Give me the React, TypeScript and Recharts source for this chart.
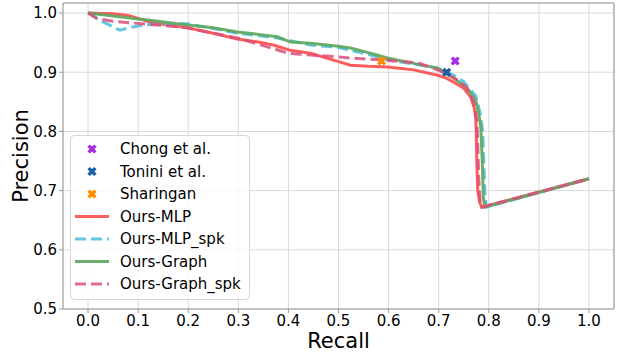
import React from 'react';
import {
  ComposedChart,
  Line,
  Scatter,
  XAxis,
  YAxis,
  CartesianGrid,
  ReferenceLine,
} from 'recharts';

// recall / precision pairs
const mlpRecall = [0, 0.05, 0.08, 0.1, 0.124, 0.15, 0.198, 0.25, 0.298, 0.34, 0.37, 0.404, 0.444, 0.5, 0.524, 0.56, 0.598, 0.65, 0.698, 0.715, 0.73, 0.75, 0.764, 0.771, 0.774, 0.775, 0.776, 0.778, 0.782, 0.786, 1.0];
const mlpPrecision = [1.0, 0.999, 0.996, 0.991, 0.985, 0.981, 0.975, 0.966, 0.956, 0.951, 0.946, 0.937, 0.932, 0.918, 0.912, 0.91, 0.909, 0.904, 0.895, 0.89, 0.883, 0.873, 0.858, 0.84, 0.822, 0.8, 0.75, 0.7, 0.68, 0.672, 0.72];

const mlpSpkRecall = [0, 0.03, 0.064, 0.08, 0.111, 0.15, 0.198, 0.25, 0.298, 0.378, 0.444, 0.5, 0.524, 0.56, 0.598, 0.65, 0.698, 0.73, 0.75, 0.774, 0.783, 0.788, 0.79, 0.792, 0.795, 1.0];
const mlpSpkPrecision = [1.0, 0.985, 0.971, 0.975, 0.98, 0.982, 0.982, 0.974, 0.966, 0.958, 0.946, 0.942, 0.937, 0.93, 0.921, 0.914, 0.907, 0.895, 0.884, 0.86, 0.83, 0.8, 0.752, 0.7, 0.672, 0.72];

const graphRecall = [0, 0.05, 0.1, 0.124, 0.198, 0.25, 0.298, 0.34, 0.378, 0.404, 0.444, 0.5, 0.524, 0.56, 0.598, 0.65, 0.698, 0.73, 0.757, 0.774, 0.78, 0.784, 0.787, 0.789, 0.792, 1.0];
const graphPrecision = [1.0, 0.995, 0.99, 0.988, 0.98, 0.975, 0.968, 0.964, 0.96, 0.951, 0.949, 0.944, 0.941, 0.933, 0.924, 0.915, 0.907, 0.89, 0.873, 0.853, 0.83, 0.807, 0.75, 0.69, 0.672, 0.72];

const graphSpkRecall = [0, 0.017, 0.05, 0.093, 0.15, 0.198, 0.25, 0.298, 0.35, 0.4, 0.444, 0.5, 0.524, 0.584, 0.658, 0.698, 0.738, 0.757, 0.77, 0.776, 0.778, 0.78, 0.783, 0.786, 1.0];
const graphSpkPrecision = [1.0, 0.991, 0.986, 0.983, 0.979, 0.975, 0.966, 0.958, 0.945, 0.932, 0.929, 0.926, 0.924, 0.921, 0.916, 0.904, 0.887, 0.873, 0.85, 0.82, 0.78, 0.72, 0.68, 0.672, 0.72];

// single-point baselines
const chong = [{ r: 0.733, p: 0.919 }];
const tonini = [{ r: 0.716, p: 0.9 }];
const sharingan = [{ r: 0.586, p: 0.919 }];

const xTicks = [0, 0.1, 0.2, 0.3, 0.4, 0.5, 0.6, 0.7, 0.8, 0.9, 1.0];
const yTicks = [0.5, 0.6, 0.7, 0.8, 0.9, 1.0];

const toPoints = (r: number[], p: number[]) => r.map((v, i) => ({ r: v, p: p[i] }));

const FONT = '"DejaVu Sans", sans-serif';
const AXIS = '#999';

const series = [
  { name: 'Ours-MLP', data: toPoints(mlpRecall, mlpPrecision), color: '#ff4a4a', dash: undefined, opacity: 0.9 },
  { name: 'Ours-MLP_spk', data: toPoints(mlpSpkRecall, mlpSpkPrecision), color: '#52c0de', dash: '11 5', opacity: 0.9 },
  { name: 'Ours-Graph', data: toPoints(graphRecall, graphPrecision), color: '#5ca65c', dash: undefined, opacity: 0.9 },
  { name: 'Ours-Graph_spk', data: toPoints(graphSpkRecall, graphSpkPrecision), color: '#d9507a', dash: '11 5', opacity: 0.85 },
];

const markers = [
  { name: 'Chong et al.', data: chong, color: '#a52fe0' },
  { name: 'Tonini et al.', data: tonini, color: '#1b5ea6' },
  { name: 'Sharingan', data: sharingan, color: '#ff8c00' },
];

function XMark({ cx, cy, fill }: any) {
  const a = 4.8;
  const b = 1.7;
  const pts = [
    [-b, -a], [b, -a], [b, -b], [a, -b], [a, b], [b, b],
    [b, a], [-b, a], [-b, b], [-a, b], [-a, -b], [-b, -b],
  ]
    .map(([x, y]) => `${cx + x},${cy + y}`)
    .join(' ');
  return <polygon points={pts} fill={fill} transform={`rotate(45 ${cx} ${cy})`} />;
}

function LegendBox() {
  const top = 149;
  const step = 22.5;
  return (
    <svg width={625} height={352} style={{ position: 'absolute', left: 0, top: 0, pointerEvents: 'none' }}>
      <rect x={70.5} y={135.5} width={179} height={164} rx={4} fill="rgba(255,255,255,0.8)" stroke="#d6d6d6" />
      {markers.map((m, i) => (
        <g key={m.name}>
          <XMark cx={92} cy={top + i * step} fill={m.color} />
          <text x={120} y={top + i * step} dy="0.36em" fontSize={15} fontFamily={FONT} fill="#000">
            {m.name}
          </text>
        </g>
      ))}
      {series.map((s, j) => {
        const y = top + (j + 3) * step;
        return (
          <g key={s.name}>
            <line x1={75} x2={109} y1={y} y2={y} stroke={s.color} strokeWidth={3} strokeDasharray={s.dash} strokeOpacity={s.opacity} />
            <text x={120} y={y} dy="0.36em" fontSize={15} fontFamily={FONT} fill="#000">
              {s.name}
            </text>
          </g>
        );
      })}
    </svg>
  );
}

export default function App() {
  return (
    <div style={{ position: 'absolute', left: 0, top: 0, width: 625, height: 352, background: '#fff' }}>
      <ComposedChart width={625} height={352} margin={{ top: 3, right: 11, left: 0, bottom: 0 }}>
        <CartesianGrid stroke="#d9d9d9" strokeWidth={1} />
        <XAxis
          dataKey="r"
          type="number"
          domain={[-0.05, 1.05]}
          ticks={xTicks}
          allowDataOverflow
          tickFormatter={(v: number) => v.toFixed(1)}
          height={43}
          tickSize={4}
          tickMargin={2}
          stroke={AXIS}
          tick={{ fill: '#000', fontSize: 15, fontFamily: FONT }}
          label={{ value: 'Recall', position: 'insideBottom', offset: 4, fontSize: 21, fontFamily: FONT, fill: '#000' }}
        />
        <YAxis
          type="number"
          domain={[0.5, 1.017]}
          ticks={yTicks}
          allowDataOverflow
          tickFormatter={(v: number) => v.toFixed(1)}
          width={63}
          tickSize={4}
          tickMargin={2}
          stroke={AXIS}
          tick={{ fill: '#000', fontSize: 15, fontFamily: FONT }}
          label={(props: any) => {
            const vb = props.viewBox;
            const x = vb.x + 21;
            const y = vb.y + vb.height / 2;
            return (
              <text x={x} y={y} textAnchor="middle" dominantBaseline="central" transform={`rotate(-90 ${x} ${y})`} fontSize={21} fontFamily={FONT} fill="#000">
                Precision
              </text>
            );
          }}
        />
        <ReferenceLine y={1.017} stroke={AXIS} strokeWidth={1} />
        <ReferenceLine x={1.05} stroke={AXIS} strokeWidth={1} />
        {markers.map((m) => (
          <Scatter key={m.name} name={m.name} data={m.data} dataKey="p" fill={m.color} shape={<XMark />} isAnimationActive={false} />
        ))}
        {series.map((s) => (
          <Line
            key={s.name}
            name={s.name}
            data={s.data}
            dataKey="p"
            type="linear"
            stroke={s.color}
            strokeWidth={3}
            strokeOpacity={s.opacity}
            strokeDasharray={s.dash}
            dot={false}
            activeDot={false}
            isAnimationActive={false}
          />
        ))}
      </ComposedChart>
      <LegendBox />
    </div>
  );
}
